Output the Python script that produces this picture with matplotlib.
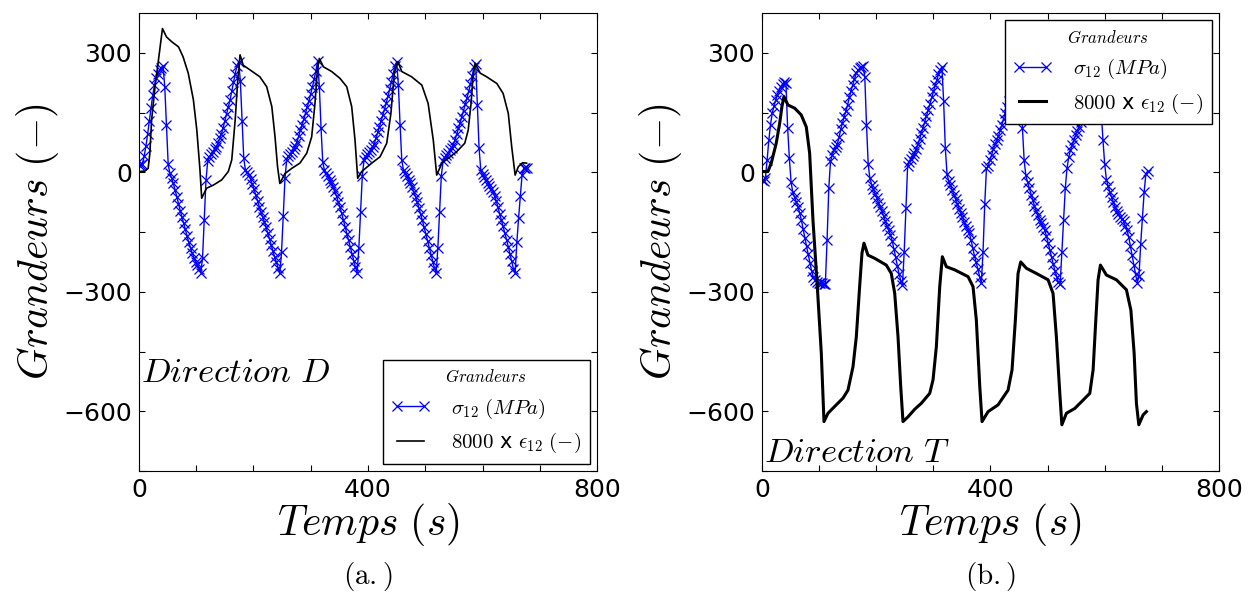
import numpy as np
import matplotlib
matplotlib.use("Agg")
import matplotlib.pyplot as plt
from matplotlib.ticker import FuncFormatter

plt.rcParams['mathtext.fontset'] = 'cm'

# stress curves are sampled every 3 s, starting at t = 0
step = 3

# sigma_12 (MPa), direction D
sigma_d = [
    18, 18, 22, 40, 65, 95, 128, 162, 194, 218,
    236, 248, 256, 263, 268, 215, 120, 20, -3, -15,
    -28, -44, -61, -79, -96, -112, -128, -143, -159, -176,
    -190, -203, -214, -224, -234, -242, -252, -215, -120, -20,
    28, 38, 46, 52, 58, 64, 73, 85, 97, 112,
    130, 147, 164, 181, 203, 226, 248, 266, 278, 230,
    130, 35, 5, 0, -6, -18, -30, -43, -57, -72,
    -86, -99, -112, -124, -138, -153, -168, -183, -198, -213,
    -226, -240, -254, -200, -110, -15, 32, 40, 46, 52,
    59, 66, 77, 92, 106, 120, 134, 149, 164, 180,
    197, 215, 234, 255, 280, 215, 110, 25, 5, -2,
    -10, -19, -27, -37, -48, -60, -74, -88, -103, -120,
    -137, -154, -171, -188, -206, -222, -238, -252, -190, -100,
    -10, 30, 38, 45, 51, 57, 63, 72, 86, 100,
    114, 129, 144, 159, 175, 192, 209, 228, 248, 266,
    278, 220, 120, 30, 5, -2, -10, -19, -28, -38,
    -49, -61, -75, -90, -105, -121, -138, -155, -172, -190,
    -207, -224, -240, -253, -190, -100, -10, 28, 36, 43,
    49, 55, 61, 69, 82, 96, 110, 125, 140, 155,
    171, 187, 204, 222, 242, 264, 272, 170, 60, 5,
    -5, -12, -19, -26, -34, -42, -50, -59, -72, -88,
    -104, -119, -135, -152, -169, -187, -205, -223, -242, -252,
    -175, -115, -60, -8, 10, 12, 10,
]

# sigma_12 (MPa), direction T
sigma_t = [
    -20, -22, -15, 30, 80, 120, 148, 166, 181, 194,
    205, 214, 221, 226, 225, 110, 35, -25, -50, -62,
    -74, -86, -102, -120, -142, -164, -185, -206, -228, -248,
    -263, -271, -276, -278, -279, -279, -280, -280, -170, -40,
    28, 43, 55, 63, 71, 88, 108, 124, 140, 154,
    170, 188, 205, 220, 235, 249, 256, 261, 265, 268,
    240, 120, 20, -15, -31, -42, -54, -64, -76, -88,
    -98, -110, -122, -135, -146, -157, -172, -192, -213, -235,
    -255, -272, -282, -200, -90, 15, 26, 34, 42, 48,
    58, 70, 84, 98, 112, 127, 142, 157, 172, 188,
    203, 218, 232, 246, 258, 265, 180, 60, -5, -22,
    -33, -44, -56, -67, -79, -91, -102, -113, -125, -135,
    -144, -153, -170, -190, -210, -226, -243, -262, -278, -200,
    -80, 10, 16, 30, 44, 58, 70, 81, 91, 105,
    120, 135, 150, 165, 180, 195, 210, 225, 238, 250,
    260, 210, 110, 30, -8, -25, -40, -56, -70, -84,
    -96, -108, -119, -128, -137, -145, -160, -178, -196, -213,
    -231, -248, -262, -276, -281, -200, -120, -40, 10, 38,
    55, 68, 80, 93, 104, 115, 127, 140, 155, 170,
    185, 200, 215, 230, 243, 253, 260, 250, 150, 80,
    20, -19, -35, -50, -62, -74, -86, -97, -104, -111,
    -117, -123, -134, -146, -162, -185, -208, -232, -256, -277,
    -260, -180, -115, -50, -5, 3,
]

# 8000 x epsilon_12, direction D
eps_d_time = [0, 10, 16, 19, 22, 28, 34, 41, 48, 57, 69, 77, 86, 95, 101, 106.5, 109.5,
              118, 130, 144.5, 156, 162, 168, 172.5, 176.5, 182, 194, 211, 223, 232, 237.6,
              242, 246, 255, 267, 281, 293, 301.6, 307.4, 311.5, 315, 322, 336.6, 351,
              362.8, 371.5, 377.3, 382, 389, 406.5, 421, 432.7, 440, 446, 452, 459, 476,
              494, 505, 514, 520, 529, 540, 555, 569, 575, 580, 583, 587, 596, 607, 625,
              636, 645, 651, 657, 662.5, 670, 677]
eps_d = [2, 3, 10, 48, 131, 215, 282, 361, 340, 328, 315, 290, 249, 182, 106, 6, -65,
         -40, -32, -19, 2, 31, 131, 232, 295, 269, 257, 240, 215, 165, 89,
         14, -28, -3, 10, 23, 48, 89, 173, 257, 286, 265, 253, 236,
         215, 165, 81, -15, 2, 23, 39, 73, 148, 249, 278, 253, 240,
         219, 173, 81, -7, 23, 35, 52, 73, 106, 173, 232, 274, 249, 240, 223,
         198, 148, 64, -7, 14, 24, 23]

# 8000 x epsilon_12, direction T
eps_t_time = [0, 10.5, 16.3, 25, 31, 35, 38.5, 45.5, 57.3, 68.8, 77.6, 83.5, 89.3, 96.9,
              103.9, 108.6, 115.6, 127.3, 141.9, 150.6, 159.4, 165.2, 171, 175.1, 178.6,
              185.6, 197.3, 217.7, 226.4, 232.4, 238.2, 242.9, 246.9, 255.7, 267.4, 279,
              293.7, 299.5, 305.3, 311.2, 315.8, 322.8, 337.5, 360.8, 369.5, 375.3, 381.3,
              385.3, 395.8, 413.3, 430.8, 437.8, 443.6, 448.3, 453, 462.9, 480.4, 500.9,
              509.6, 515.4, 521.4, 525, 533, 547.6, 562.2, 573.9, 579.7, 584.4, 588.4,
              592.5, 603, 620.5, 638, 645.8, 651.5, 655.5, 659.7, 667.3, 673]
eps_t = [2, 2, 23, 73, 123, 165, 190, 169, 161, 144, 114, 48, -120, -287,
         -454, -626, -605, -588, -567, -547, -488, -413, -287, -203, -178,
         -208, -216, -233, -254, -304, -413, -538, -626, -614, -595, -580,
         -555, -521, -438, -287, -212, -237, -245, -262, -287, -371, -538,
         -626, -601, -584, -547, -496, -371, -254, -225, -241, -254, -270,
         -304, -413, -555, -634, -605, -593, -572, -555, -496, -371, -270,
         -233, -258, -270, -295, -346, -454, -580, -634, -609, -601]

x_labels = {0: '0', 400: '400', 800: '800'}
y_labels = {300: '300', 0: '0', -300: '\u2212300', -600: '\u2212600'}


def draw(ax, sig, te, eps, eps_lw, direction, text_y, legend_loc):
    ts = np.arange(len(sig)) * step
    ax.plot(ts, sig, color='b', marker='x', ms=7, mew=0.9, lw=1,
            label=r'$\sigma_{12}\ (MPa)$')
    ax.plot(te, eps, color='k', lw=eps_lw, label=r'$8000$ x $\epsilon_{12}\ (-)$')
    ax.set_xlim(0, 800)
    ax.set_ylim(-750, 400)
    ax.set_xticks(np.arange(0, 801, 100))
    ax.set_yticks(np.arange(-750, 401, 150))
    ax.xaxis.set_major_formatter(FuncFormatter(lambda v, p: x_labels.get(int(round(v)), '')))
    ax.yaxis.set_major_formatter(FuncFormatter(lambda v, p: y_labels.get(int(round(v)), '')))
    ax.tick_params(direction='in', top=True, right=True, length=4.5, width=0.8,
                   labelsize=18, pad=5)
    ax.set_xlabel(r'$Temps\ (s)$', fontsize=30)
    ax.set_ylabel(r'$Grandeurs\ (-)$', fontsize=30)
    ax.xaxis.set_label_coords(0.5, -0.065)
    ax.yaxis.set_label_coords(-0.17, 0.5)
    ax.text(0.004, text_y, r'$Direction\ %s$' % direction, transform=ax.transAxes,
            fontsize=25, va='center', ha='left')
    leg = ax.legend(loc=legend_loc, numpoints=2, title=r'$Grandeurs$', fontsize=15,
                    title_fontsize=12, fancybox=False, edgecolor='k', framealpha=1,
                    borderaxespad=0.35, handlelength=1.9, handletextpad=1.0)
    leg.get_frame().set_linewidth(1.0)


fig = plt.figure(figsize=(12.59, 5.94), dpi=100)
ax1 = fig.add_axes([0.1104, 0.2071, 0.3638, 0.7710])
ax2 = fig.add_axes([0.6052, 0.2071, 0.3630, 0.7710])

draw(ax1, sigma_d, eps_d_time, eps_d, 1.2, 'D', 0.216, 'lower right')
draw(ax2, sigma_t, eps_t_time, eps_t, 2.2, 'T', 0.041, 'upper right')

fig.text(0.2923, 0.029, r'$\mathrm{(a.)}$', fontsize=21, ha='center', va='center')
fig.text(0.7867, 0.029, r'$\mathrm{(b.)}$', fontsize=21, ha='center', va='center')

fig.savefig('out.png', dpi=100)
